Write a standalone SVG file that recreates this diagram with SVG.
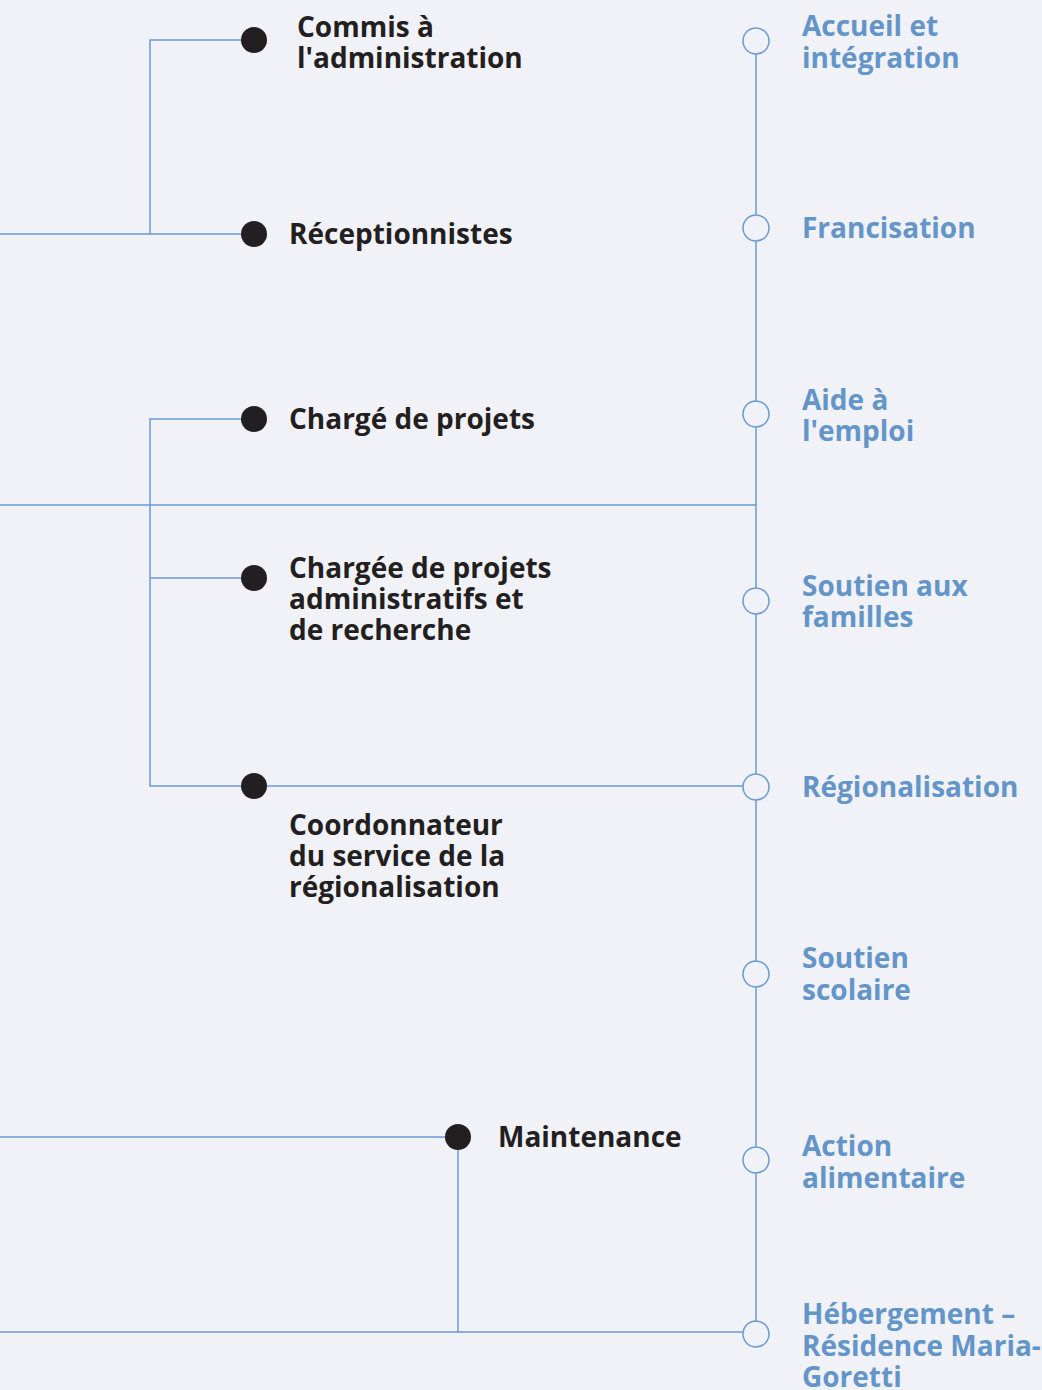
<svg xmlns="http://www.w3.org/2000/svg" width="1042" height="1390" viewBox="0 0 1042 1390">
<style>
.bg{fill:#f1f2f8}
.ln{fill:none;stroke:#6a9bd3;stroke-width:1.5}
.dot{fill:#231f20}
.ring{fill:#f1f2f8;stroke:#6a9bd3;stroke-width:1.5}
.tk{font-family:"Open Sans","Noto Sans",sans-serif;font-weight:700;font-size:28px;fill:#231f20}
.tb{font-family:"Open Sans","Noto Sans",sans-serif;font-weight:700;font-size:28px;fill:#6495c9}
</style>
<rect class="bg" x="0" y="0" width="1042" height="1390"/>
<g id="connectors">
<path class="ln" d="M756 41 V1334"/>
<path class="ln" d="M254 40 H150 V234 M0 234 H254"/>
<path class="ln" d="M254 419 H150 V786 H756 M150 578 H254 M0 505 H756"/>
<path class="ln" d="M0 1137 H458 V1332 M0 1332 H756"/>
</g>
<g id="n-commis"><circle class="dot" cx="254" cy="40" r="13"/><text class="tk" x="297" y="37">Commis à</text><text class="tk" x="297" y="68">l'administration</text></g>
<g id="n-reception"><circle class="dot" cx="254" cy="234" r="13"/><text class="tk" x="289" y="244">Réceptionnistes</text></g>
<g id="n-charge"><circle class="dot" cx="254" cy="419" r="13"/><text class="tk" x="289" y="429">Chargé de projets</text></g>
<g id="n-chargee"><circle class="dot" cx="254" cy="578" r="13"/><text class="tk" x="289" y="578">Chargée de projets</text><text class="tk" x="289" y="609">administratifs et</text><text class="tk" x="289" y="640">de recherche</text></g>
<g id="n-coord"><circle class="dot" cx="254" cy="786" r="13"/><text class="tk" x="289" y="835">Coordonnateur</text><text class="tk" x="289" y="866">du service de la</text><text class="tk" x="289" y="897">régionalisation</text></g>
<g id="n-maint"><circle class="dot" cx="458" cy="1137" r="13"/><text class="tk" x="498" y="1147">Maintenance</text></g>
<g id="s-accueil"><circle class="ring" cx="756" cy="41" r="13"/><text class="tb" x="802" y="36">Accueil et</text><text class="tb" x="802" y="68">intégration</text></g>
<g id="s-franc"><circle class="ring" cx="756" cy="228" r="13"/><text class="tb" x="802" y="238">Francisation</text></g>
<g id="s-emploi"><circle class="ring" cx="756" cy="414" r="13"/><text class="tb" x="802" y="410">Aide à</text><text class="tb" x="802" y="441">l'emploi</text></g>
<g id="s-familles"><circle class="ring" cx="756" cy="601" r="13"/><text class="tb" x="802" y="596">Soutien aux</text><text class="tb" x="802" y="627">familles</text></g>
<g id="s-region"><circle class="ring" cx="756" cy="787" r="13"/><text class="tb" x="802" y="797">Régionalisation</text></g>
<g id="s-scol"><circle class="ring" cx="756" cy="974" r="13"/><text class="tb" x="802" y="968">Soutien</text><text class="tb" x="802" y="1000">scolaire</text></g>
<g id="s-alim"><circle class="ring" cx="756" cy="1160" r="13"/><text class="tb" x="802" y="1156">Action</text><text class="tb" x="802" y="1188">alimentaire</text></g>
<g id="s-heberg"><circle class="ring" cx="756" cy="1334" r="13"/><text class="tb" x="802" y="1324">Hébergement –</text><text class="tb" x="802" y="1356">Résidence Maria-</text><text class="tb" x="802" y="1387">Goretti</text></g>
</svg>
